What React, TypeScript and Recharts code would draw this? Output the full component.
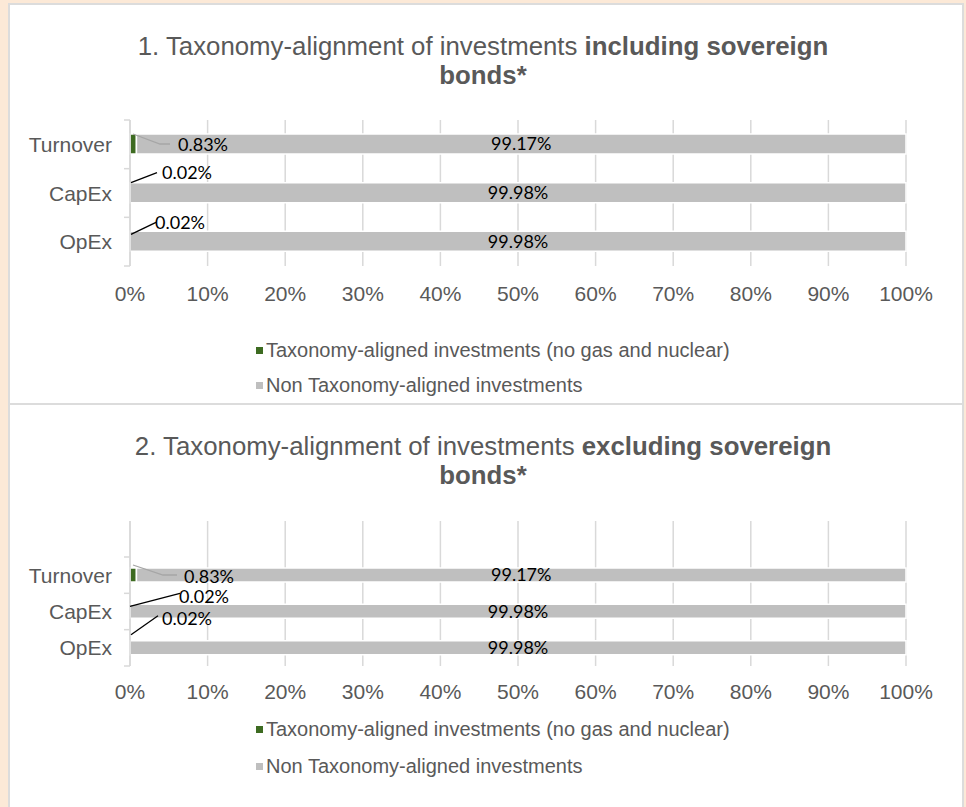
import { Bar, BarChart, CartesianGrid, LabelList, XAxis, YAxis } from "recharts"

const categories = ["Turnover", "CapEx", "OpEx"]
const alignedIncl = [0.83, 0.02, 0.02]
const nonAlignedIncl = [99.17, 99.98, 99.98]
const alignedExcl = [0.83, 0.02, 0.02]
const nonAlignedExcl = [99.17, 99.98, 99.98]
const xTicks = [0, 10, 20, 30, 40, 50, 60, 70, 80, 90, 100]
const seriesNames = ["Taxonomy-aligned investments (no gas and nuclear)", "Non Taxonomy-aligned investments"]

const GREEN = "#3d6b21"
const GREY = "#bfbfbf"
const TEXT = "#595959"
const AXIS_FONT = "'Liberation Sans', Arial, sans-serif"
const LABEL_FONT = "Lato, 'Open Sans', sans-serif"
const PLOT_LEFT = 130

// callout leader lines for the small green values (offsets from bar top-left)
const calloutsIncl = [
  { line: [[3, 0], [30, 10], [40, 10]], lx: 48, ly: 10, color: "#a6a6a6" },
  { line: [[1, 0], [27, -10]], lx: 32, ly: -11, color: "#000" },
  { line: [[1, 3], [26, -9]], lx: 25, ly: -9, color: "#000" },
]
const calloutsExcl = [
  { line: [[3, -3], [33, 7], [47, 7]], lx: 54, ly: 8, color: "#a6a6a6" },
  { line: [[0, 2], [50, -11]], lx: 49, ly: -8, color: "#000" },
  { line: [[1, -6], [28, -25]], lx: 32, ly: -23, color: "#000" },
]

const pct = (v: number) => `${Number(v).toFixed(2)}%`

function makeCallout(callouts: any[]) {
  return (props: any) => {
    const { x, y, index, value } = props
    const c = callouts[index]
    if (!c) return null
    const pts = c.line.map(([dx, dy]: number[]) => `${Number(x) + dx},${Number(y) + dy}`).join(" ")
    return (
      <g>
        <polyline points={pts} fill="none" stroke={c.color} strokeWidth={1.3} />
        <text x={Number(x) + c.lx} y={Number(y) + c.ly} dominantBaseline="central" fontSize={18} fontFamily={LABEL_FONT} fill="#000">
          {pct(value)}
        </text>
      </g>
    )
  }
}

function makeYTick(band: number, count: number) {
  return (props: any) => {
    const { y, payload, index } = props
    return (
      <g>
        <text x={PLOT_LEFT - 18} y={y} textAnchor="end" dominantBaseline="central" fontSize={21} fontFamily={AXIS_FONT} fill={TEXT}>
          {payload.value}
        </text>
        <line x1={PLOT_LEFT - 6} x2={PLOT_LEFT} y1={y - band / 2} y2={y - band / 2} stroke="#d9d9d9" strokeWidth={1.5} />
        {index === count - 1 && (
          <line x1={PLOT_LEFT - 6} x2={PLOT_LEFT} y1={y + band / 2} y2={y + band / 2} stroke="#d9d9d9" strokeWidth={1.5} />
        )}
      </g>
    )
  }
}

function Title({ top, lead, bold }: { top: number; lead: string; bold: string }) {
  return (
    <div
      style={{
        position: "absolute",
        left: 0,
        top,
        width: 966,
        textAlign: "center",
        fontFamily: AXIS_FONT,
        fontSize: 25.8,
        lineHeight: "29px",
        color: TEXT,
      }}
    >
      {lead}
      <b>{bold}</b>
      <br />
      <b>bonds*</b>
    </div>
  )
}

function LegendBlock({ top, gap }: { top: number; gap: number }) {
  const colors = [GREEN, GREY]
  return (
    <>
      {seriesNames.map((name, i) => (
        <div
          key={name}
          style={{
            position: "absolute",
            left: 256,
            top: top + i * gap - 12,
            height: 24,
            display: "flex",
            alignItems: "center",
            fontFamily: AXIS_FONT,
            fontSize: 20,
            color: TEXT,
            whiteSpace: "nowrap",
          }}
        >
          <span style={{ width: 7, height: 7, background: colors[i], marginRight: 3, display: "inline-block" }} />
          {name}
        </div>
      ))}
    </>
  )
}

type ChartProps = {
  top: number
  height: number
  plotTop: number
  plotBottom: number
  padTop: number
  barSize: number
  tickMargin: number
  aligned: number[]
  nonAligned: number[]
  callouts: any[]
}

function AlignmentChart(p: ChartProps) {
  const data = categories.map((name, i) => ({ name, aligned: p.aligned[i], nonAligned: p.nonAligned[i] }))
  const band = (p.plotBottom - p.plotTop - p.padTop) / categories.length
  return (
    <div style={{ position: "absolute", left: 0, top: p.top }}>
      <BarChart
        width={966}
        height={p.height}
        data={data}
        layout="vertical"
        barSize={p.barSize}
        margin={{ top: p.plotTop, right: 60, left: 10, bottom: p.height - p.plotBottom - 30 }}
      >
        <CartesianGrid horizontal={false} stroke="#d9d9d9" strokeWidth={1.5} />
        <XAxis
          type="number"
          domain={[0, 100]}
          ticks={xTicks}
          tickFormatter={(v) => `${v}%`}
          height={30}
          axisLine={false}
          tickLine={false}
          tickMargin={p.tickMargin}
          tick={{ fontSize: 21, fontFamily: AXIS_FONT, fill: TEXT }}
        />
        <YAxis
          type="category"
          dataKey="name"
          width={120}
          padding={{ top: p.padTop, bottom: 0 }}
          axisLine={{ stroke: "#d9d9d9", strokeWidth: 1.5 }}
          tickLine={false}
          tick={makeYTick(band, categories.length)}
        />
        <Bar dataKey="aligned" stackId="a" fill={GREEN} stroke="#fff" strokeWidth={1.5} isAnimationActive={false}>
          <LabelList dataKey="aligned" content={makeCallout(p.callouts)} />
        </Bar>
        <Bar dataKey="nonAligned" stackId="a" fill={GREY} stroke="#fff" strokeWidth={1.5} isAnimationActive={false}>
          <LabelList
            dataKey="nonAligned"
            position="center"
            formatter={(v: any) => pct(v)}
            fill="#000"
            fontSize={18}
            fontFamily={LABEL_FONT}
          />
        </Bar>
      </BarChart>
    </div>
  )
}

export default function App() {
  return (
    <div style={{ position: "absolute", left: 0, top: 0, width: 966, height: 807, background: "#fce9d7", overflow: "hidden" }}>
      <div
        style={{
          position: "absolute",
          left: 8,
          top: 3,
          width: 952,
          height: 820,
          background: "#fff",
          border: "2px solid #dcdcdc",
        }}
      />
      <div style={{ position: "absolute", left: 10, top: 403, width: 952, height: 2, background: "#dcdcdc" }} />

      <Title top={32} lead="1. Taxonomy-alignment of investments " bold="including sovereign" />
      <AlignmentChart
        top={0}
        height={404}
        plotTop={120}
        plotBottom={266}
        padTop={0}
        barSize={20}
        tickMargin={14}
        aligned={alignedIncl}
        nonAligned={nonAlignedIncl}
        callouts={calloutsIncl}
      />
      <LegendBlock top={350} gap={35} />

      <Title top={432} lead="2. Taxonomy-alignment of investments " bold="excluding sovereign" />
      <AlignmentChart
        top={404}
        height={403}
        plotTop={117}
        plotBottom={262}
        padTop={36}
        barSize={14}
        tickMargin={12}
        aligned={alignedExcl}
        nonAligned={nonAlignedExcl}
        callouts={calloutsExcl}
      />
      <LegendBlock top={729} gap={37} />
    </div>
  )
}
